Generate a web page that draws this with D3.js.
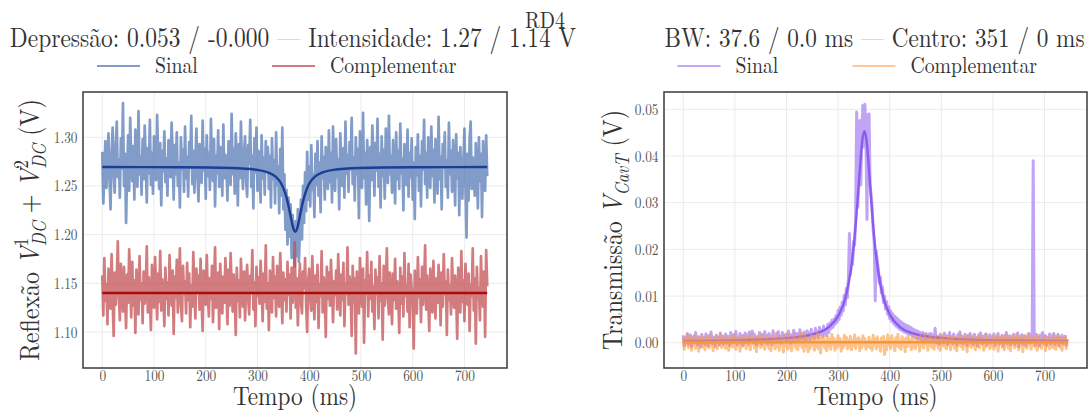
<!DOCTYPE html>
<html>
<head>
<meta charset="utf-8">
<script src="https://cdn.jsdelivr.net/npm/d3@7"></script>
<style>
  html, body { margin: 0; padding: 0; background: #fff; }
  svg { display: block; }
</style>
</head>
<body>
<svg id="fig" width="1090" height="413"></svg>
<script>
// ---------------------------------------------------------------
// Recorded traces, one sample every 2 ms (0 .. 744 ms)
// ---------------------------------------------------------------
const sampleStepMs = 2;

const tempoTicks = [0, 100, 200, 300, 400, 500, 600, 700];
const reflTicks = [1.10, 1.15, 1.20, 1.25, 1.30];
const transTicks = [0.00, 0.01, 0.02, 0.03, 0.04, 0.05];

// Reflection, signal detector (mV)
const reflSinalMv = [
  1285,1232,1262,1296,1248,1273,1304,1257,1226,1281,1310,1264,1243,1290,1316,1259,1277,1238,1299,1268,
  1335,1250,1283,1212,1266,1302,1245,1320,1274,1255,1291,1236,1308,1270,1249,1327,1262,1280,1241,1298,
  1257,1312,1276,1233,1289,1263,1318,1251,1284,1242,1301,1269,1256,1323,1279,1247,1294,1230,1286,1265,
  1306,1254,1278,1240,1297,1271,1259,1315,1283,1236,1292,1262,1305,1250,1274,1228,1300,1267,1287,1244,
  1311,1258,1280,1239,1295,1269,1322,1252,1286,1243,1277,1309,1261,1234,1293,1272,1253,1317,1266,1288,
  1237,1302,1260,1284,1246,1319,1271,1255,1298,1229,1281,1263,1307,1249,1290,1275,1240,1313,1258,1282,
  1266,1235,1296,1270,1251,1324,1262,1288,1242,1304,1276,1230,1293,1258,1316,1268,1247,1285,1301,1256,
  1239,1292,1273,1318,1249,1281,1227,1299,1264,1310,1245,1286,1269,1233,1302,1258,1279,1241,1296,1266,
  1290,1247,1281,1228,1299,1257,1276,1232,1305,1251,1270,1222,1288,1240,1310,1226,1262,1205,1246,1190,
  1238,1198,1231,1176,1220,1188,1167,1214,1178,1226,1172,1203,1236,1195,1250,1212,1264,1224,1285,1236,
  1270,1229,1292,1246,1262,1218,1283,1251,1296,1240,1274,1223,1301,1258,1280,1236,1290,1262,1247,1307,
  1254,1284,1233,1311,1268,1245,1298,1259,1277,1226,1304,1271,1250,1289,1238,1316,1263,1282,1244,1295,
  1267,1320,1252,1279,1235,1300,1262,1288,1217,1306,1273,1248,1325,1258,1284,1231,1297,1269,1214,1290,
  1256,1312,1277,1240,1294,1266,1319,1249,1283,1228,1301,1260,1287,1237,1309,1271,1253,1322,1262,1281,
  1243,1297,1268,1232,1305,1257,1286,1247,1314,1263,1278,1225,1293,1270,1251,1308,1239,1284,1259,1299,
  1236,1274,1216,1290,1261,1303,1245,1281,1229,1296,1267,1318,1252,1284,1238,1300,1272,1248,1311,1260,
  1287,1233,1298,1265,1242,1321,1257,1280,1226,1293,1269,1305,1249,1276,1238,1315,1262,1286,1244,1297,
  1271,1230,1303,1258,1284,1220,1290,1264,1237,1277,1309,1250,1197,1283,1235,1298,1316,1247,1279,1256,
  1240,1294,1262,1227,1300,1255,1283,1218,1296,1268,1245,1302,1260
];

// Reflection, complementary detector (mV)
const reflCompMv = [
  1158,1117,1176,1132,1149,1108,1165,1140,1124,1180,1135,1096,1161,1128,1152,1193,1137,1112,1170,1143,
  1121,1167,1138,1104,1159,1130,1185,1146,1115,1172,1127,1153,1099,1164,1139,1118,1178,1133,1150,1109,
  1162,1129,1145,1188,1120,1156,1136,1102,1169,1141,1125,1177,1148,1113,1160,1131,1183,1122,1154,1138,
  1106,1166,1134,1151,1117,1179,1143,1127,1163,1098,1157,1135,1174,1120,1146,1186,1129,1111,1168,1140,
  1152,1119,1171,1133,1160,1105,1148,1126,1182,1137,1114,1165,1142,1158,1123,1175,1131,1101,1163,1147,
  1128,1179,1139,1116,1155,1134,1168,1110,1150,1187,1125,1144,1161,1103,1170,1136,1119,1157,1130,1176,
  1143,1108,1164,1127,1181,1149,1121,1159,1138,1097,1166,1132,1153,1115,1175,1141,1126,1162,1112,1146,
  1169,1134,1118,1158,1140,1184,1123,1151,1106,1167,1137,1156,1129,1173,1145,1111,1160,1131,1189,1124,
  1150,1102,1163,1142,1120,1177,1135,1157,1116,1168,1139,1126,1181,1147,1109,1161,1133,1154,1121,1172,
  1138,1159,1114,1166,1130,1148,1192,1125,1155,1107,1143,1170,1132,1119,1162,1145,1176,1128,1100,1153,
  1165,1136,1122,1178,1141,1113,1158,1131,1169,1104,1149,1137,1183,1120,1156,1142,1095,1167,1134,1161,
  1127,1174,1146,1110,1152,1138,1163,1123,1180,1144,1117,1159,1133,1171,1106,1150,1139,1187,1128,1157,
  1143,1096,1168,1131,1155,1078,1162,1137,1119,1176,1148,1126,1165,1089,1153,1140,1182,1116,1158,1134,
  1172,1121,1147,1103,1164,1139,1156,1114,1178,1132,1150,1092,1168,1127,1145,1186,1135,1118,1161,1141,
  1108,1160,1133,1175,1124,1152,1140,1099,1166,1129,1157,1116,1181,1137,1148,1121,1170,1105,1159,1144,
  1131,1083,1163,1142,1119,1177,1136,1154,1110,1167,1128,1149,1189,1123,1158,1134,1101,1165,1146,1120,
  1173,1138,1114,1155,1130,1169,1145,1107,1161,1126,1180,1139,1152,1097,1164,1133,1148,1118,1176,1141,
  1125,1158,1136,1093,1166,1147,1120,1183,1131,1153,1111,1170,1142,1128,1160,1101,1149,1137,1186,1122,
  1155,1088,1167,1134,1145,1112,1178,1139,1126,1162,1095,1184,1147
];

// Transmission, signal detector (mV)
const transSinalMv = [
  1.6,-0.6,1.1,0.3,2.0,-0.3,0.8,1.7,-0.8,0.5,1.4,0.0,2.2,0.4,-0.5,1.3,0.9,-0.9,1.8,0.2,
  1.0,-0.4,1.9,0.6,-0.7,1.5,0.1,2.3,-0.2,1.2,0.7,-0.8,1.6,0.4,1.1,-0.5,2.1,0.3,1.4,-0.3,
  0.9,1.9,-0.1,1.4,0.5,-0.6,2.2,0.9,0.0,1.7,0.3,2.4,-0.4,1.1,0.7,2.0,-0.2,1.5,-0.6,1.0,
  2.1,0.2,1.6,-0.3,2.3,0.7,1.2,2.5,0.0,1.8,0.5,-0.5,1.3,0.4,2.2,1.0,-0.3,1.7,0.8,2.4,
  0.3,1.5,-0.2,2.0,0.9,1.4,-0.4,2.6,0.6,1.1,0.1,1.9,2.4,0.4,1.3,-0.1,2.2,0.8,1.6,0.2,
  1.9,0.5,2.5,1.0,-0.1,1.7,0.7,2.7,1.2,0.3,2.0,1.5,0.4,2.8,0.9,1.8,0.2,2.3,1.3,0.6,
  2.6,1.0,2.1,0.6,2.9,1.4,1.9,0.8,3.1,1.6,2.4,1.1,3.3,1.8,2.7,1.3,3.6,2.0,2.9,1.5,
  3.9,2.2,4.2,3.0,4.8,3.3,5.1,3.9,5.8,4.4,6.9,5.0,7.6,5.9,8.7,6.8,10.2,8.1,11.6,9.6,
  13.8,23.4,14.6,17.9,16.8,21.7,20.9,26.8,49.4,29.0,35.2,47.6,33.8,45.0,50.8,41.9,51.1,43.6,26.4,48.8,
  49.0,34.1,31.5,29.2,24.0,21.5,9.0,19.6,17.5,15.8,12.7,14.1,10.6,12.0,8.6,10.0,7.2,8.8,6.1,7.7,
  5.2,6.8,4.6,6.2,4.0,5.7,3.6,5.3,3.2,4.9,2.8,4.5,2.6,4.2,2.3,3.9,2.1,3.7,1.9,3.5,
  1.8,3.2,1.5,2.9,1.2,2.7,1.0,2.5,0.8,2.3,1.6,0.6,2.2,1.3,0.4,2.0,1.1,0.3,1.9,0.9,
  2.0,0.2,1.6,0.7,3.1,0.0,1.4,0.9,-0.3,1.8,0.5,1.2,-0.1,2.1,0.6,1.5,-0.4,1.0,2.2,0.3,
  1.3,-0.2,1.9,0.5,1.1,-0.5,1.7,0.8,2.3,0.1,1.4,-0.3,1.0,1.8,0.4,-0.6,1.6,0.7,2.0,0.0,
  1.2,-0.4,1.8,0.6,1.0,-0.7,1.5,0.3,2.1,0.9,-0.2,1.4,0.5,1.9,-0.5,1.1,0.2,1.7,-0.1,1.3,
  0.4,1.9,-0.6,1.2,0.7,2.0,-0.3,1.0,0.2,1.6,-0.7,1.3,0.6,2.2,-0.2,0.9,1.5,-0.5,1.1,0.3,
  1.8,-0.4,1.0,0.5,2.1,-0.8,1.3,0.2,1.7,-0.3,0.8,1.5,-0.6,1.2,0.4,2.0,-0.1,1.0,0.6,39.0,
  1.4,-0.5,1.8,0.3,1.1,-0.7,1.6,0.6,2.2,-0.2,0.9,1.5,-0.6,1.2,0.4,1.9,-0.3,1.0,0.7,2.0,
  -0.4,1.3,0.5,1.8,-0.6,1.1,0.2,1.6,-0.2,0.9,1.4,-0.5,0.8
];

// Transmission, complementary detector (mV)
const transCompMv = [
  1.1,-1.4,0.5,-0.3,1.7,-1.0,0.2,1.3,-1.6,0.7,-0.5,1.5,-1.2,0.0,1.0,-1.8,0.6,-0.1,1.4,-0.9,
  0.3,-1.5,1.2,-0.2,0.8,-1.1,1.6,-0.6,0.1,-1.7,0.9,-0.4,1.5,-1.3,0.4,0.0,1.8,-1.0,0.6,-0.7,
  1.3,-1.2,-0.1,1.0,-1.6,0.5,-0.5,1.4,-0.9,0.2,1.7,-1.4,0.7,-0.1,1.1,-1.8,0.4,-0.8,1.5,-0.3,
  0.8,-1.3,1.2,-0.6,0.1,-1.5,1.6,-0.2,0.9,-1.1,0.5,-1.9,1.3,-0.4,0.7,-1.0,1.8,-0.7,0.3,-1.4,
  1.0,-0.5,1.5,-1.2,0.2,-1.7,1.1,-0.1,0.6,-1.3,2.0,-0.8,0.4,-1.6,1.4,-0.3,0.9,-2.0,1.7,-0.6,
  0.5,-1.4,1.8,-0.9,0.1,-1.7,1.3,-0.2,1.9,-1.1,0.7,-1.5,1.2,-0.4,2.1,-1.0,0.3,-1.8,1.6,-0.7,
  1.0,-1.9,0.6,-1.2,1.7,-0.5,1.4,-1.6,0.2,-0.9,2.0,-1.3,0.8,-2.2,1.1,-0.3,1.5,-1.1,0.4,-1.7,
  1.3,-0.8,0.7,-1.4,1.8,-0.2,1.0,-1.6,0.4,-1.0,1.5,-0.5,0.9,-1.8,0.2,-1.1,1.6,-0.4,1.2,-1.3,
  0.6,-0.9,1.4,-1.5,0.3,-0.6,1.7,-1.2,0.8,-0.1,1.1,-1.7,0.5,-1.0,1.5,-0.3,0.9,-1.4,0.1,-0.8,
  1.2,-1.1,0.4,-1.6,1.6,-0.4,0.7,-1.3,1.3,-0.7,0.0,-1.8,1.0,-0.2,1.4,-2.5,0.5,-1.5,1.7,-0.5,
  0.8,-1.2,1.5,-0.1,0.3,-1.7,1.1,-0.6,1.8,-1.0,0.2,-1.4,1.3,-0.3,0.7,-1.9,1.0,-0.8,1.4,0.0,
  0.5,-1.5,1.6,-0.9,0.1,-1.2,1.2,-0.4,0.9,-1.8,1.5,-0.7,0.4,-1.1,1.7,-0.2,0.8,-1.6,1.1,-0.5,
  1.3,-1.0,0.6,-1.4,1.5,-0.3,0.2,-1.1,0.8,-1.6,1.2,-0.6,1.6,-0.9,0.3,-1.3,1.0,-0.2,1.4,-1.5,
  0.7,-0.4,1.3,-1.2,0.0,-1.7,1.1,-0.5,1.6,-0.8,0.4,-1.4,1.2,-0.1,0.9,-1.9,1.5,-0.6,0.2,-1.0,
  1.4,-0.3,0.8,-1.5,1.1,-0.7,1.7,-1.1,0.5,-0.2,1.3,-1.6,0.6,-0.9,1.8,-0.4,1.0,-1.3,0.3,-0.8,
  1.2,-1.4,0.7,-0.5,1.5,-1.8,0.9,-0.2,1.3,-1.0,0.4,-1.5,1.6,-0.6,1.0,-1.2,0.2,-1.7,1.4,-0.3,
  0.9,-1.1,1.7,-0.7,0.3,-1.5,1.2,-0.4,0.8,-1.9,1.5,-0.8,0.5,-1.2,1.9,-0.1,0.7,-1.4,1.1,-0.6,
  1.3,-0.9,0.6,-1.6,1.6,-0.3,0.4,-1.2,1.0,-0.5,1.4,-1.7,0.7,-0.2,1.2,-1.3,0.5,-0.8,1.7,-1.1,
  0.4,-1.4,1.1,-0.5,1.5,-1.0,0.2,-1.6,0.9,-0.3,1.3,-1.2,0.6
];

// ---------------------------------------------------------------
// Lorentzian fits (sampled), times in ms, values in volts
// ---------------------------------------------------------------
const reflFitTempo = [0,150,250,300,320,335,345,350,356,360,363,366,369,373,377,380,383,386,390,396,401,411,426,446,496,600,744];
const reflFitSinal = [1.2694,1.2692,1.2684,1.2665,1.2639,1.2595,1.2531,1.2478,1.2383,1.2294,1.2217,1.2137,1.2069,1.2030,
                      1.2069,1.2137,1.2217,1.2294,1.2383,1.2478,1.2531,1.2595,1.2639,1.2665,1.2684,1.2692,1.2694];
const reflFitCompTempo = [0, 744];
const reflFitComp = [1.140, 1.140];

const transFitTempo = [0,100,200,250,280,300,315,325,331,335,339,343,347,351,355,359,363,367,371,377,387,402,422,452,502,602,744];
const transFitSinal = [0.0004,0.00055,0.00099,0.0018,0.0032,0.0057,0.0099,0.0158,0.0214,0.0264,0.0323,0.0384,0.0434,0.0453,
                       0.0434,0.0384,0.0323,0.0264,0.0214,0.0158,0.0099,0.0057,0.0032,0.0018,0.00099,0.00055,0.0004];
const transFitCompTempo = [0, 744];
const transFitComp = [0.0001, 0.0001];

// Fit parameters shown in the titles
const depressao = [0.053, -0.0002];
const intensidade = [1.27, 1.14];
const larguraBW = [37.6, 0.0];
const centro = [351, 0];

// ---------------------------------------------------------------
const FONT = '"Latin Modern Roman", "Liberation Serif", "Times New Roman"';
const K = 0.85;                 // condensed glyph width (display-size Computer Modern)
const svg = d3.select("#fig");
const textColor = "#333";

const toSeries = (arrMv) => arrMv.map((v, i) => ({ t: i * sampleStepMs, v: v / 1000 }));
const zipSeries = (ts, vs) => ts.map((t, i) => ({ t, v: vs[i] }));

// horizontal label drawn in the condensed style
function label(parent, x, y, size, anchor = "middle") {
  return parent.append("text")
    .attr("transform", `translate(${x},${y}) scale(${K},1)`)
    .attr("text-anchor", anchor).attr("font-size", size).attr("fill", textColor);
}

function drawPanel(cfg) {
  const { left, top, width, height } = cfg.box;
  const g = svg.append("g").attr("transform", `translate(${left},${top})`);

  const x = d3.scaleLinear().domain([-37.25, 782.25]).range([0, width]);
  const y = d3.scaleLinear().domain(cfg.yDomain).range([height, 0]);

  // grid
  const grid = g.append("g").attr("stroke", "#ebebeb").attr("stroke-width", 1);
  tempoTicks.forEach(t => grid.append("line")
    .attr("x1", x(t)).attr("x2", x(t)).attr("y1", 0).attr("y2", height));
  cfg.yTicks.forEach(v => grid.append("line")
    .attr("x1", 0).attr("x2", width).attr("y1", y(v)).attr("y2", y(v)));

  // clip
  const clipId = "clip-" + cfg.id;
  g.append("clipPath").attr("id", clipId).append("rect")
    .attr("width", width).attr("height", height);
  const plot = g.append("g").attr("clip-path", `url(#${clipId})`);

  const line = d3.line().x(d => x(d.t)).y(d => y(d.v));
  const smooth = d3.line().x(d => x(d.t)).y(d => y(d.v)).curve(d3.curveMonotoneX);

  cfg.layers.forEach(L => {
    plot.append("path")
      .datum(L.data)
      .attr("fill", "none")
      .attr("stroke", L.color)
      .attr("stroke-opacity", L.opacity)
      .attr("stroke-width", L.width)
      .attr("stroke-linejoin", "round")
      .attr("d", L.smooth ? smooth : line);
  });

  // frame
  g.append("rect").attr("width", width).attr("height", height)
    .attr("fill", "none").attr("stroke", "#3a3a3a").attr("stroke-width", 1.5);

  // axes
  const ax = g.append("g").attr("transform", `translate(0,${height})`)
    .call(d3.axisBottom(x).tickValues(tempoTicks).tickSize(0).tickPadding(2).tickFormat(d3.format("d")));
  const ay = g.append("g")
    .call(d3.axisLeft(y).tickValues(cfg.yTicks).tickSize(0).tickPadding(6.5).tickFormat(d3.format(".2f")));
  [ax, ay].forEach(a => {
    a.select(".domain").remove();
    a.attr("font-family", null).attr("font-size", null);
    a.selectAll("text").attr("font-size", 15.7).attr("fill", "#555")
      .attr("transform", `scale(${K},1)`);
  });

  // x label
  label(g, width / 2, height + 37, 27.4).text("Tempo (ms)");

  // y label
  const yl = g.append("text")
    .attr("transform", `translate(${cfg.yLabelOffset},${height / 2}) rotate(-90) scale(${K},1)`)
    .attr("text-anchor", "middle").attr("font-size", 28.2).attr("fill", textColor);
  cfg.yLabel(yl);

  // title
  const tt = label(g, width / 2 + cfg.titleShift, -45, cfg.titleSize);
  tt.append("tspan").text(cfg.title[0] + " ");
  tt.append("tspan").attr("fill", "#c4c4c4").text("\u2014");
  tt.append("tspan").text(" " + cfg.title[1]);

  // legend
  const lg = g.append("g").attr("transform", `translate(${width / 2 - 198},-26)`);
  cfg.legend.forEach((item, i) => {
    const li = lg.append("g").attr("transform", `translate(${i * 175},0)`);
    li.append("line").attr("x1", 0).attr("x2", 43).attr("y1", 0).attr("y2", 0)
      .attr("stroke", item.color).attr("stroke-opacity", item.opacity).attr("stroke-width", 2.2);
    label(li, 58, 7, 23.2, "start").text(item.label);
  });
}

function subSup(textSel, base, sup, sub) {
  textSel.append("tspan").attr("font-style", "italic").text(base);
  if (sup) {
    textSel.append("tspan").attr("font-size", 20).attr("dy", -11).text(sup);
    textSel.append("tspan").attr("font-size", 20).attr("font-style", "italic")
      .attr("dx", -10).attr("dy", 18).text(sub);
    return 7;
  }
  textSel.append("tspan").attr("font-size", 20).attr("font-style", "italic")
    .attr("dy", 7).text(sub);
  return 7;
}

// left panel: reflection
drawPanel({
  id: "refl",
  box: { left: 83, top: 92, width: 424, height: 276 },
  yDomain: [1.063, 1.3465],
  yTicks: reflTicks,
  yLabelOffset: -44,
  titleSize: 27.6,
  titleShift: -2,
  title: [
    `Depressão: ${depressao[0].toFixed(3)} / ${depressao[1].toFixed(3)}`,
    `Intensidade: ${intensidade[0].toFixed(2)} / ${intensidade[1].toFixed(2)} V`
  ],
  legend: [
    { label: "Sinal", color: "#4c72b0", opacity: 0.7 },
    { label: "Complementar", color: "#c44e52", opacity: 0.75 }
  ],
  layers: [
    { data: toSeries(reflSinalMv), color: "#4c72b0", opacity: 0.7, width: 2.7 },
    { data: toSeries(reflCompMv), color: "#c44e52", opacity: 0.74, width: 2.7 },
    { data: zipSeries(reflFitTempo, reflFitSinal), color: "#1b3d96", opacity: 1, width: 2.4, smooth: true },
    { data: zipSeries(reflFitCompTempo, reflFitComp), color: "#a80c0c", opacity: 1, width: 2.4 }
  ],
  yLabel: (t) => {
    t.append("tspan").text("Reflexão ");
    let back = subSup(t, "V", "1", "DC");
    t.append("tspan").attr("dy", -back).text(" + ");
    back = subSup(t, "V", "2", "DC");
    t.append("tspan").attr("dy", -back).text(" (V)");
  }
});

// right panel: transmission
drawPanel({
  id: "trans",
  box: { left: 664, top: 92, width: 423, height: 276 },
  yDomain: [-0.0054, 0.0537],
  yTicks: transTicks,
  yLabelOffset: -42,
  titleSize: 27.3,
  titleShift: -1,
  title: [
    `BW: ${larguraBW[0].toFixed(1)} / ${larguraBW[1].toFixed(1)} ms`,
    `Centro: ${centro[0].toFixed(0)} / ${centro[1].toFixed(0)} ms`
  ],
  legend: [
    { label: "Sinal", color: "#9b6cf0", opacity: 0.6 },
    { label: "Complementar", color: "#fd9a3e", opacity: 0.55 }
  ],
  layers: [
    { data: toSeries(transSinalMv), color: "#9b6cf0", opacity: 0.62, width: 3.0 },
    { data: zipSeries(transFitTempo, transFitSinal), color: "#7f4ff0", opacity: 0.85, width: 2.4, smooth: true },
    { data: toSeries(transCompMv), color: "#fd9a3e", opacity: 0.6, width: 3.0 },
    { data: zipSeries(transFitCompTempo, transFitComp), color: "#fb9435", opacity: 1, width: 2.4 }
  ],
  yLabel: (t) => {
    t.append("tspan").text("Transmissão ");
    const back = subSup(t, "V", null, "CavT");
    t.append("tspan").attr("dy", -back).text(" (V)");
  }
});

// figure title
label(svg, 545, 28, 23.5).text("RD4");

// every label in the Computer Modern look
svg.selectAll("text").style("font-family", FONT);
</script>
</body>
</html>
